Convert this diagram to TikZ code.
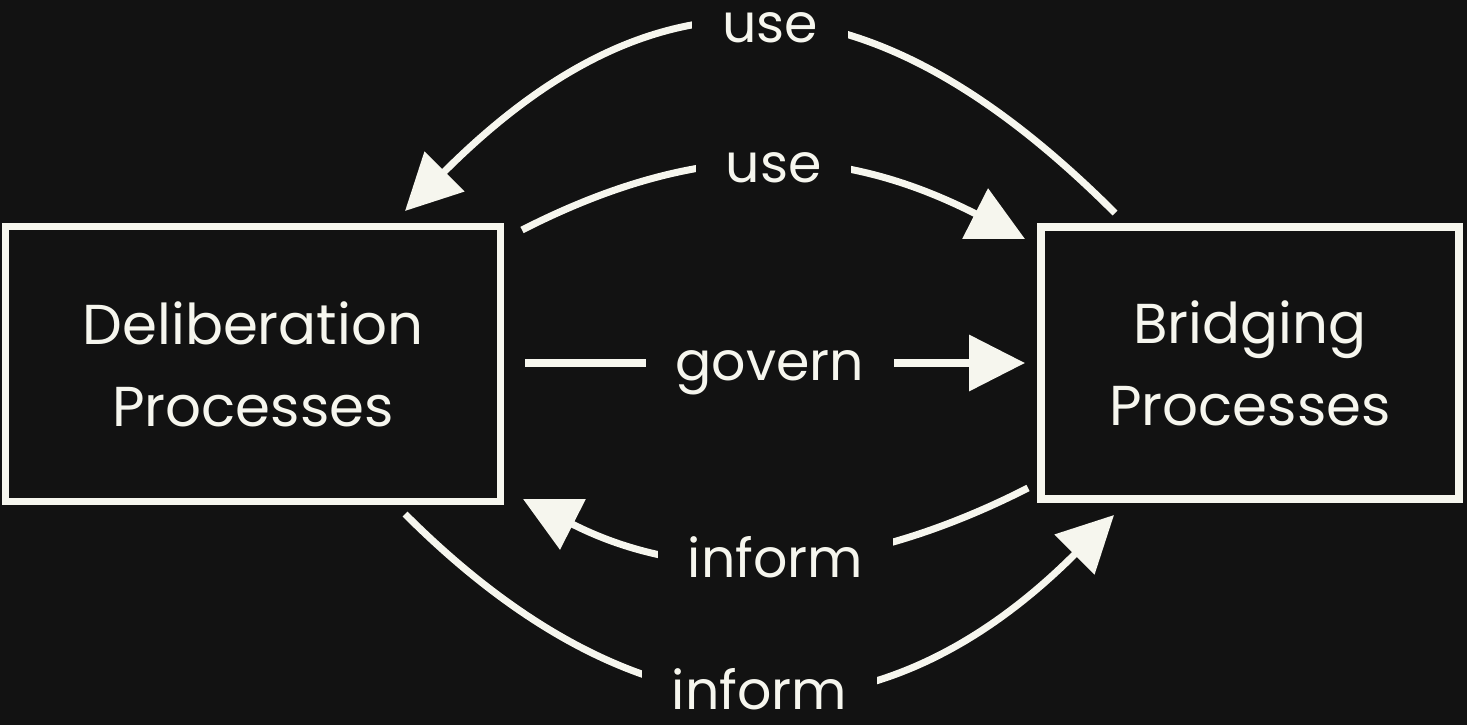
\documentclass[tikz,border=0pt]{standalone}
\usepackage{fontspec}
\setmainfont{Poppins}
\usetikzlibrary{arrows.meta}
\definecolor{ink}{RGB}{246,246,238}
\definecolor{night}{RGB}{18,18,18}
\begin{document}
\begin{tikzpicture}[ink,line width=0.07cm,
	procbox/.style={draw=ink,line width=0.075cm,align=center,text=ink,font=\fontsize{16}{23.3}\selectfont},
	tag/.style={fill=night,text=ink,font=\fontsize{15.3}{19}\selectfont,inner xsep=0.3cm,inner ysep=0.02cm,text height=0.5cm,text depth=0cm,yshift=0.07cm},
	link/.style={draw=ink,-{Triangle[length=0.56cm,width=0.55cm]}}]
		\fill[night] (0,0) rectangle (14.67,-7.25);
		\useasboundingbox (0,0) rectangle (14.67,-7.25);
		%=========== boxes ===========================
		\node[procbox,minimum width=4.95cm,minimum height=2.75cm] (delib) at (2.53,-3.64) {Deliberation\\Processes};
		\node[procbox,minimum width=4.18cm,minimum height=2.72cm] (bridge) at (12.50,-3.63) {Bridging\\Processes};
		%=========== ends of the connectors ===========================
		\coordinate (useOutS) at (11.15,-2.13);
		\coordinate (useOutE) at (4.05,-2.11);
		\coordinate (useInS) at (5.22,-2.30);
		\coordinate (useInE) at (10.25,-2.39);
		\coordinate (govS) at (5.25,-3.63);
		\coordinate (govE) at (10.25,-3.63);
		\coordinate (infInS) at (10.28,-4.88);
		\coordinate (infInE) at (5.23,-4.99);
		\coordinate (infOutS) at (4.05,-5.14);
		\coordinate (infOutE) at (11.14,-5.15);
		%=========== connectors, from top to bottom ===========================
		\draw[link] (useOutS) to[out=135,in=45,looseness=1.27] node[tag,xshift=0.1cm] (tagUseOut) {use} (useOutE);
		\draw[link] (useInS) to[out=27,in=153,looseness=1.04] node[tag] (tagUseIn) {use} (useInE);
		\draw[link] (govS) -- node[tag,xshift=-0.05cm] (tagGov) {govern} (govE);
		\draw[link] (infInS) to[out=207,in=-27,looseness=0.98] node[tag] (tagInfIn) {inform} (infInE);
		\draw[link] (infOutS) to[out=-45,in=225,looseness=1.21] node[tag] (tagInfOut) {inform} (infOutE);
	\end{tikzpicture}
\end{document}
